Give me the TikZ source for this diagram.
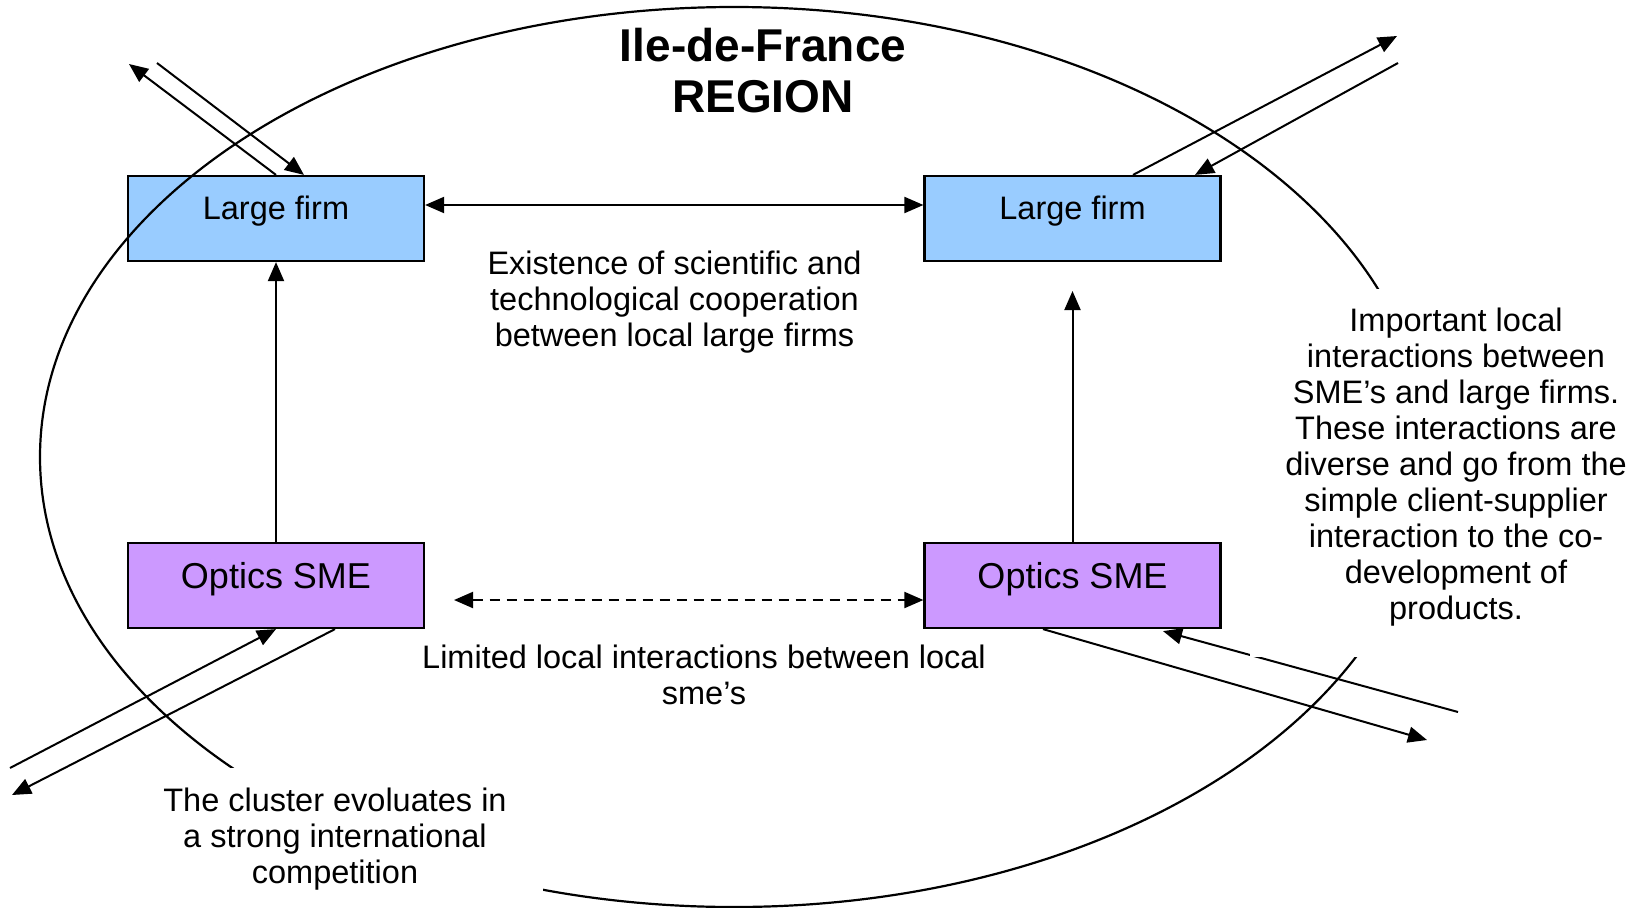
\documentclass[tikz,border=0pt]{standalone}
\usepackage{fontspec}
\setmainfont{Liberation Sans}
\usetikzlibrary{arrows.meta}
\newcommand\bodyfont{\fontsize{32.5}{36}\selectfont}
\newcommand\smefont{\fontsize{36}{41}\selectfont}
\newcommand\titlefont{\fontsize{46}{51}\selectfont\bfseries}
\definecolor{firmblue}{HTML}{99CCFF}
\definecolor{smeviolet}{HTML}{CC99FF}
\begin{document}
\begin{tikzpicture}[x=1pt,y=-1pt,
  >={Triangle[length=19pt,width=16pt]},
  firmbox/.style={draw=black, line width=2.2pt, fill=firmblue, minimum width=296pt, minimum height=85pt, inner sep=0pt, text height=43.8pt, text depth=41.2pt, font=\bodyfont},
  smebox/.style={draw=black, line width=2.2pt, fill=smeviolet, minimum width=296pt, minimum height=85pt, inner sep=0pt, text height=45pt, text depth=40pt, font=\smefont},
  link/.style={line width=2pt},
  dashlink/.style={line width=2pt, dash pattern=on 10pt off 7pt},
  region/.style={line width=2.2pt},
  label/.style={font=\bodyfont, align=center, inner sep=0pt},
  cover/.style={fill=white, draw=none, inner sep=0pt}
]
\useasboundingbox (0,0) rectangle (1645,907);
\fill[white] (0,0) rectangle (1645,907);

% boxes
\node[firmbox] (LF1) at (276,218.5) {Large firm};
\node[firmbox] (LF2) at (1072.5,218.5) {Large firm};
\node[smebox] (OS1) at (276,585.5) {Optics SME};
\node[smebox] (OS2) at (1072.5,585.5) {Optics SME};

% region ellipse
\draw[region] (734,457) ellipse [x radius=694pt, y radius=450pt];

% free ends
\coordinate (tlA) at (129,64);
\coordinate (tlB) at (157,63);
\coordinate (trC) at (1397,36);
\coordinate (trD) at (1398,63);
\coordinate (blE) at (10,768);
\coordinate (blF) at (12,795);
\coordinate (brG) at (1427,740);
\coordinate (brH) at (1458,712);
\coordinate (vR) at (1072.5,291);
\coordinate (dL) at (454,600);

% connectors
\draw[link,->] (LF1.north) -- (tlA);
\draw[link,->] (tlB) -- ([xshift=28pt]LF1.north);
\draw[link,->] ([xshift=60.5pt]LF2.north) -- (trC);
\draw[link,->] (trD) -- ([xshift=122.5pt]LF2.north);
\draw[link,->] (blE) -- (OS1.south);
\draw[link,->] ([xshift=59pt]OS1.south) -- (blF);
\draw[link,->] ([xshift=-29.5pt]OS2.south) -- (brG);
\draw[link,->] (brH) -- ([xshift=90.5pt,yshift=-2pt]OS2.south);
\draw[link,->] (OS1.north) -- (LF1.south);
\draw[link,->] (OS2.north) -- (vR);
\draw[link,<->] ([yshift=13.5pt]LF1.east) -- ([yshift=13.5pt]LF2.west);
\draw[dashlink,<->] (dL) -- ([yshift=-14.5pt]OS2.west);

% white text boxes
\node[cover, minimum width=420pt, minimum height=368pt] (coverR) at (1460,473) {};
\node[cover, minimum width=416pt, minimum height=142pt] (coverB) at (335,839) {};

% texts
\node[font=\titlefont, align=center, inner sep=0pt] (title) at (763,70.5) {Ile-de-France\\REGION};
\node[label] (coop) at (674.5,302) {Existence of scientific and\\technological cooperation\\between local large firms};
\node[label] (limited) at (704,674.5) {Limited local interactions between local\\sme’s};
\node[label] (important) at (1456,467) {Important local\\interactions between\\SME’s and large firms.\\These interactions are\\diverse and go from the\\simple client-supplier\\interaction to the co-\\development of\\products.};
\node[label] (cluster) at (335,839) {The cluster evoluates in\\a strong international\\competition};
\end{tikzpicture}
\end{document}
